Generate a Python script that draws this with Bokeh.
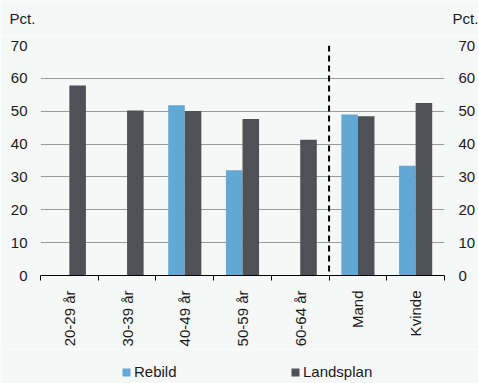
import math
from bokeh.plotting import figure
from bokeh.layouts import column
from bokeh.models import (ColumnDataSource, Range1d, LinearAxis, FixedTicker, Span,
                          Label, Legend, LegendItem, CustomJSTickFormatter)
from bokeh.embed import file_html
from bokeh.resources import INLINE

categories = ["20-29 år", "30-39 år", "40-49 år", "50-59 år", "60-64 år", "Mand", "Kvinde"]
rebild = [float("nan"), float("nan"), 51.8, 32.0, float("nan"), 49.0, 33.4]
landsplan = [57.8, 50.2, 50.1, 47.6, 41.3, 48.5, 52.5]
y_ticks = [0, 10, 20, 30, 40, 50, 60, 70]
series_names = ["Rebild", "Landsplan"]
unit_label = "Pct."
divider_at = 5  # boundary between age groups and gender

BG = "#F6F7F7"
BLUE = "#62A8D5"
DARK = "#505157"
FONT = "Liberation Sans"
TXT = "#1a1a1a"
W = 478


def strip(h, xr=(0, 1), yr=(0, 1)):
    f = figure(width=W, height=h, output_backend="svg", toolbar_location=None,
               x_range=Range1d(*xr), y_range=Range1d(*yr),
               x_axis_location=None, y_axis_location=None,
               min_border=0, min_border_left=0, min_border_right=0,
               min_border_top=0, min_border_bottom=0,
               background_fill_color=BG, border_fill_color=BG, outline_line_color=None)
    f.grid.visible = False
    if hasattr(f, "frame_align"):
        f.frame_align = False
    return f


# ---------- header with the unit labels ----------
head = strip(35)
for sx in (9, 452):
    head.add_layout(Label(x=sx, y=17, x_units="screen", y_units="screen", text=unit_label,
                          text_font=FONT, text_font_size="15px", text_color=TXT,
                          text_align="left", text_baseline="middle"))

# ---------- main chart ----------
n = len(categories)
bw = 0.287
centers = [i + 0.5 for i in range(n)]
src = ColumnDataSource(dict(
    xr=[c - bw / 2 for c in centers],
    xl=[c + bw / 2 for c in centers],
    rebild=rebild,
    landsplan=landsplan,
))

p = figure(width=W, height=314, output_backend="svg", toolbar_location=None,
           x_range=Range1d(0, n), y_range=Range1d(y_ticks[0], y_ticks[-1]),
           min_border_left=40, min_border_right=31, min_border_top=10, min_border_bottom=72,
           background_fill_color=BG, border_fill_color=BG, outline_line_color=None,
           y_axis_location=None)
if hasattr(p, "frame_align"):
    p.frame_align = False

p.vbar(x="xr", top="rebild", width=bw, source=src, fill_color=BLUE, line_color=None)
p.vbar(x="xl", top="landsplan", width=bw, source=src, fill_color=DARK, line_color=None)

p.xgrid.visible = False
p.ygrid.ticker = FixedTicker(ticks=y_ticks)
p.ygrid.grid_line_color = "#9a9a9a"
p.ygrid.grid_line_width = 1

xa = p.xaxis[0]
xa.ticker = FixedTicker(ticks=centers, minor_ticks=list(range(n + 1)))
xa.formatter = CustomJSTickFormatter(args=dict(labels=categories),
                                     code="return labels[Math.floor(tick)] || '';")
xa.major_tick_line_color = None
xa.major_tick_out = 0
xa.major_tick_in = 0
xa.minor_tick_line_color = "black"
xa.minor_tick_out = 5
xa.minor_tick_in = 0
xa.axis_line_color = "black"
xa.major_label_orientation = math.pi / 2
xa.major_label_standoff = 10
xa.major_label_text_font = FONT
xa.major_label_text_font_size = "15px"
xa.major_label_text_color = TXT

for side, so in (("left", 13), ("right", 14)):
    ax = LinearAxis(ticker=FixedTicker(ticks=y_ticks))
    ax.axis_line_color = None
    ax.major_tick_line_color = None
    ax.minor_tick_line_color = None
    ax.major_tick_out = 0
    ax.major_tick_in = 0
    ax.minor_tick_out = 0
    ax.major_label_standoff = so
    ax.major_label_text_font = FONT
    ax.major_label_text_font_size = "15px"
    ax.major_label_text_color = TXT
    p.add_layout(ax, side)

p.add_layout(Span(location=divider_at, dimension="height", line_color="black",
                  line_width=2, line_dash="6 4"))

# ---------- legend strip (its bar renderers are hidden, only swatches show) ----------
leg = strip(34, xr=(0, n), yr=(-2, -1))
lr1 = leg.vbar(x="xr", top="landsplan", width=bw, source=src, fill_color=BLUE, line_color=None)
lr2 = leg.vbar(x="xl", top="landsplan", width=bw, source=src, fill_color=DARK, line_color=None)
lr1.visible = False
lr2.visible = False
legend = Legend(items=[LegendItem(label=series_names[0], renderers=[lr1]),
                       LegendItem(label=series_names[1], renderers=[lr2])],
                orientation="horizontal", location=(121, 3))
legend.glyph_width = 10
legend.glyph_height = 10
legend.label_standoff = 3
legend.label_width = 63
legend.spacing = 93
legend.padding = 0
legend.margin = 0
legend.border_line_color = None
legend.background_fill_alpha = 0
legend.label_text_font = FONT
legend.label_text_font_size = "15px"
legend.label_text_color = TXT
leg.add_layout(legend, "center")

layout = column(head, p, leg, spacing=0)
open("out.html", "w").write(file_html(layout, INLINE))
